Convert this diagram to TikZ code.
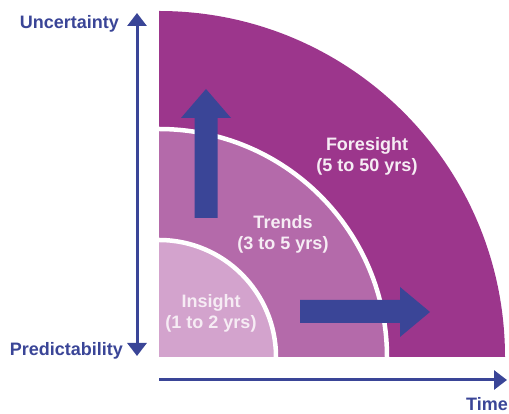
\documentclass[tikz,border=0pt]{standalone}
\usepackage{fontspec}
\setmainfont{Liberation Sans}
\usetikzlibrary{arrows.meta}
\definecolor{foresight}{HTML}{9C368C}
\definecolor{trends}{HTML}{B46AAA}
\definecolor{insight}{HTML}{D3A3CD}
\definecolor{axisblue}{HTML}{3A4597}
\definecolor{zonetext}{HTML}{F6ECF4}

\begin{document}
\begin{tikzpicture}[x=1pt,y=1pt,
  >={Triangle[width=19pt,length=13pt]},
  axis/.style={draw=axisblue, line width=3pt},
  axislabel/.style={text=axisblue, inner sep=0pt, font=\fontsize{18}{21}\selectfont\bfseries},
  zonelabel/.style={text=zonetext, inner sep=0pt, align=center, font=\fontsize{18}{21}\selectfont\bfseries},
  gap/.style={draw=white, line width=4.5pt}]
  \useasboundingbox (0,0) rectangle (509,414);
  \coordinate (o) at (159,57);
  % zones
  \fill[foresight] (o) -- ++(0,346) arc (90:0:346) -- cycle;
  \fill[trends] (o) -- ++(0,228) arc (90:0:228) -- cycle;
  \draw[gap] (o) ++(0,228) arc (90:0:228);
  \fill[insight] (o) -- ++(0,117) arc (90:0:117) -- cycle;
  \draw[gap] (o) ++(0,117) arc (90:0:117);
  % block arrows
  \fill[axisblue] (194.5,196) -- (217.5,196) -- (217.5,296) -- (231,296) -- (206,325)
    -- (181,296) -- (194.5,296) -- cycle;
  \fill[axisblue] (300,91) -- (400,91) -- (400,77) -- (430,102) -- (400,127)
    -- (400,114) -- (300,114) -- cycle;
  % zone labels (base = last line)
  \node[zonelabel, anchor=base] (fore) at (367,242) {Foresight\\(5 to 50 yrs)};
  \node[zonelabel, anchor=base] (trend) at (283,164) {Trends\\(3 to 5 yrs)};
  \node[zonelabel, anchor=base] (ins) at (211,85) {Insight\\(1 to 2 yrs)};
  % axes
  \coordinate (ytop) at (137,401);
  \coordinate (ybot) at (137,58);
  \coordinate (xleft) at (159,34);
  \coordinate (xright) at (507,34);
  \draw[axis, <->] (ybot) -- (ytop);
  \draw[axis, ->] (xleft) -- (xright);
  \node[axislabel, anchor=base east] (unc) at (119,385) {Uncertainty};
  \node[axislabel, anchor=base east] (pred) at (123,58) {Predictability};
  \node[axislabel, anchor=base east] (time) at (508,3.5) {Time};
\end{tikzpicture}
\end{document}
